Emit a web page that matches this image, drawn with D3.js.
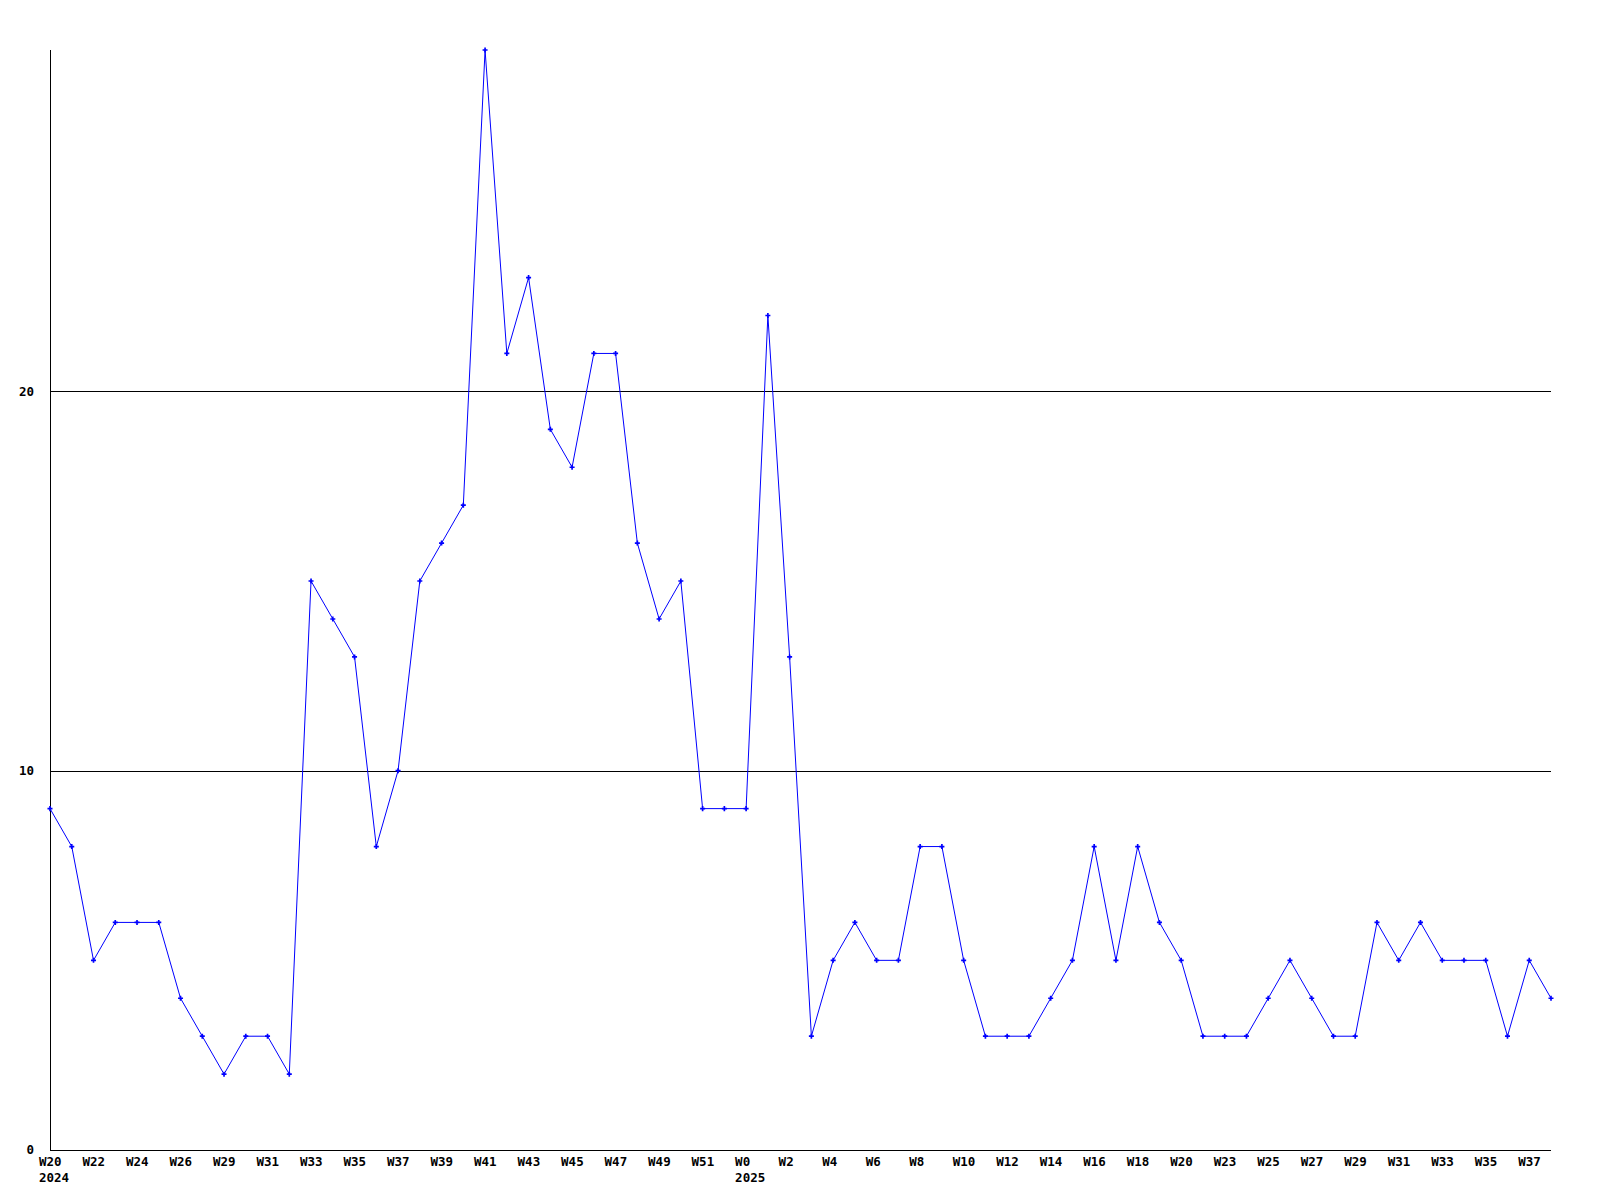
<!DOCTYPE html>
<html>
<head>
<meta charset="utf-8">
<script src="https://cdn.jsdelivr.net/npm/d3@7"></script>
<style>
  body { margin: 0; background: #fff; }
  text { font-family: "DejaVu Sans Mono", "Liberation Mono", monospace; font-weight: bold; font-size: 12.5px; fill: #000; }
</style>
</head>
<body>
<div id="graph"></div>
<script>
const weeks = [
  "W20", "W21", "W22", "W23", "W24", "W25", "W26", "W27", "W29", "W30",
  "W31", "W32", "W33", "W34", "W35", "W36", "W37", "W38", "W39", "W40",
  "W41", "W42", "W43", "W44", "W45", "W46", "W47", "W48", "W49", "W50",
  "W51", "W52", "W0", "W1", "W2", "W3", "W4", "W5", "W6", "W7",
  "W8", "W9", "W10", "W11", "W12", "W13", "W14", "W15", "W16", "W17",
  "W18", "W19", "W20", "W21", "W23", "W24", "W25", "W26", "W27", "W28",
  "W29", "W30", "W31", "W32", "W33", "W34", "W35", "W36", "W37", "W38"
];

const years = { 0: "2024", 32: "2025" };

const counts = [
  9, 8, 5, 6, 6, 6, 4, 3, 2, 3,
  3, 2, 15, 14, 13, 8, 10, 15, 16, 17,
  29, 21, 23, 19, 18, 21, 21, 16, 14, 15,
  9, 9, 9, 22, 13, 3, 5, 6, 5, 5,
  8, 8, 5, 3, 3, 3, 4, 5, 8, 5,
  8, 6, 5, 3, 3, 3, 4, 5, 4, 3,
  3, 6, 5, 6, 5, 5, 5, 3, 5, 4
];

const yTicks = [0, 10, 20];

const width = 1600;
const height = 1200;
const margin = { left: 50, right: 1551, top: 50, bottom: 1150 };

const svg = d3.select("#graph")
  .append("svg")
  .attr("width", width)
  .attr("height", height);

const x = d3.scaleLinear().domain([0, counts.length - 1]).range([margin.left, margin.right]);
const y = d3.scaleLinear().domain([0, d3.max(counts)]).range([margin.bottom, margin.top]);

// horizontal grid lines
svg.selectAll(".grid")
  .data(yTicks.filter(t => t > 0))
  .join("line")
  .attr("class", "grid")
  .attr("x1", margin.left)
  .attr("x2", margin.right)
  .attr("y1", d => Math.round(y(d)) + 0.5)
  .attr("y2", d => Math.round(y(d)) + 0.5)
  .attr("stroke", "#000")
  .attr("shape-rendering", "crispEdges");

// axes
svg.append("line")
  .attr("x1", margin.left + 0.5).attr("x2", margin.left + 0.5)
  .attr("y1", margin.top).attr("y2", margin.bottom)
  .attr("stroke", "#000")
  .attr("shape-rendering", "crispEdges");

svg.append("line")
  .attr("x1", margin.left).attr("x2", margin.right)
  .attr("y1", margin.bottom + 0.5).attr("y2", margin.bottom + 0.5)
  .attr("stroke", "#000")
  .attr("shape-rendering", "crispEdges");

svg.selectAll(".ylabel")
  .data(yTicks)
  .join("text")
  .attr("class", "ylabel")
  .attr("x", 34)
  .attr("y", d => y(d))
  .attr("dy", "0.35em")
  .attr("text-anchor", "end")
  .text(d => d);

// week labels on every second point, left edge a bit before the point
const labelled = weeks.map((w, i) => ({ w, i })).filter(d => d.i % 2 === 0);

svg.selectAll(".xlabel")
  .data(labelled)
  .join("text")
  .attr("class", "xlabel")
  .attr("x", d => x(d.i) - 11)
  .attr("y", margin.bottom + 16)
  .text(d => d.w);

svg.selectAll(".year")
  .data(Object.keys(years).map(k => ({ i: +k, label: years[k] })))
  .join("text")
  .attr("class", "year")
  .attr("x", d => x(d.i) - 11)
  .attr("y", margin.bottom + 32)
  .text(d => d.label);

const line = d3.line()
  .x((d, i) => x(i))
  .y(d => y(d));

svg.append("path")
  .datum(counts)
  .attr("d", line)
  .attr("fill", "none")
  .attr("stroke", "#0000ff")
  .attr("stroke-width", 1);

svg.selectAll(".pt")
  .data(counts)
  .join("path")
  .attr("class", "pt")
  .attr("transform", (d, i) => `translate(${x(i)},${y(d)})`)
  .attr("d", d3.symbol(d3.symbolCross, 14))
  .attr("fill", "#0000ff");
</script>
</body>
</html>
